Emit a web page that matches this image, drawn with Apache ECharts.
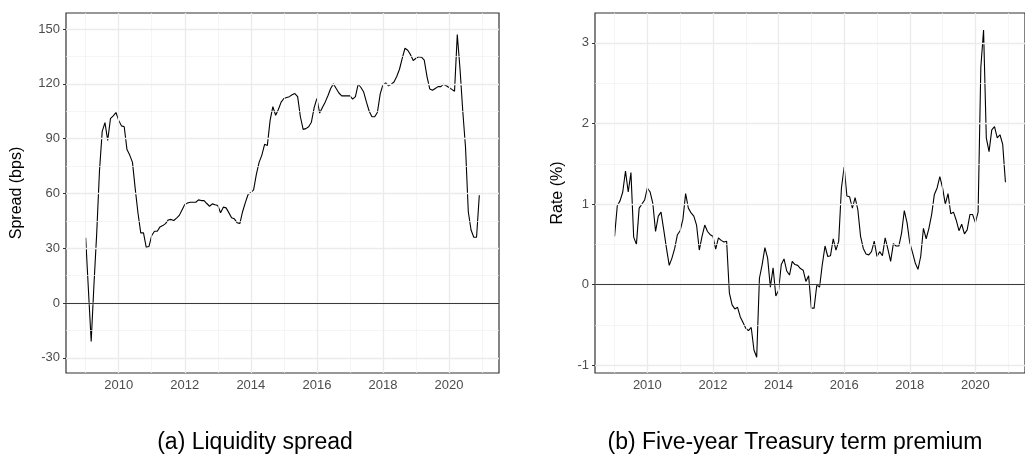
<!DOCTYPE html>
<html>
<head>
<meta charset="utf-8">
<script src="https://cdn.jsdelivr.net/npm/echarts@6/dist/echarts.min.js"></script>
<style>
html,body{margin:0;padding:0;background:#fff;}
#chart{width:1025px;height:469px;}
</style>
</head>
<body>
<div id="chart"></div>
<script>
// Monthly observations, Jan 2009 .. Dec 2020
const startYear = 2009;
const liquiditySpread = [
  35.7, 7, -21, 10, 38, 72, 94, 98.8, 89, 101, 102.5, 104.3,
  100, 97, 96.5, 84, 81, 77, 62.5, 49.3, 38.4, 38.4, 30.5, 31,
  37, 39.3, 39.3, 41.7, 42.4, 43.5, 45.5, 45.8, 45.2, 46.5, 48, 51,
  54, 54.8, 55.2, 55.2, 55.2, 56.5, 56.1, 56.1, 54.5, 53, 54.3, 53.8,
  53.4, 49.4, 52.5, 52.1, 49.5, 46.7, 46.1, 44, 43.5, 50, 55, 59.4,
  60.5, 62, 70.4, 77, 81, 86.9, 86.3, 100, 107.5, 102.8, 106, 110,
  112, 112.5, 113, 114, 114.7, 113, 102, 95.1, 95.5, 96.5, 99, 107,
  112, 104, 107, 110, 113.5, 117.5, 120, 117.5, 115, 113.4, 113.4, 113.4,
  113.4, 111.6, 113, 119.8, 118, 115.5, 110, 105, 102, 102, 104.5, 114.5,
  119.5, 120.5, 118.9, 119.8, 121, 124, 128, 134, 139.5, 138.4, 136, 132.8,
  134, 134.8, 134.6, 133, 124, 117.2, 116.5, 117.5, 118.5, 118.5, 119.8, 119,
  118, 117, 116, 147, 128, 105, 85, 50, 40, 36, 36, 59
];
const termPremium = [
  0.6, 0.98, 1.04, 1.15, 1.41, 1.15, 1.39, 0.59, 0.5, 0.95, 1.0, 1.05,
  1.2, 1.15, 1.01, 0.66, 0.85, 0.9, 0.68, 0.45, 0.24, 0.33, 0.45, 0.62,
  0.67, 0.81, 1.13, 0.95, 0.89, 0.85, 0.74, 0.43, 0.6, 0.74, 0.66, 0.62,
  0.6, 0.44, 0.58, 0.55, 0.53, 0.54, -0.1, -0.25, -0.3, -0.28, -0.4, -0.47,
  -0.54, -0.57, -0.53, -0.81, -0.9, 0.08, 0.25, 0.46, 0.33, -0.03, 0.21, -0.14,
  -0.07, 0.25, 0.32, 0.17, 0.12, 0.29, 0.25, 0.24, 0.2, 0.18, 0.04, 0.11,
  -0.29, -0.29, 0.0, -0.03, 0.25, 0.48, 0.35, 0.36, 0.57, 0.43, 0.54, 1.2,
  1.46, 1.1, 1.09, 0.95, 1.08, 0.93, 0.6, 0.45, 0.38, 0.37, 0.41, 0.54,
  0.35, 0.41, 0.36, 0.58, 0.44, 0.29, 0.51, 0.48, 0.48, 0.64, 0.92, 0.77,
  0.52, 0.4, 0.27, 0.19, 0.35, 0.7, 0.57, 0.7, 0.87, 1.12, 1.2, 1.34,
  1.2, 1.0, 1.13, 0.88, 0.9, 0.8, 0.67, 0.75, 0.63, 0.68, 0.87, 0.87,
  0.77, 0.9, 2.7, 3.16, 1.82, 1.65, 1.92, 1.96, 1.82, 1.86, 1.74, 1.27
];
const xMajorTicks = [2010, 2012, 2014, 2016, 2018, 2020];
const xMinorTicks = [2009, 2011, 2013, 2015, 2017, 2019, 2021];
const yLeftTicks = [-30, 0, 30, 60, 90, 120, 150];
const yLeftMinor = [-15, 15, 45, 75, 105, 135];
const yRightTicks = [-1, 0, 1, 2, 3];
const yRightMinor = [-0.5, 0.5, 1.5, 2.5];
const captions = ['(a) Liquidity spread', '(b) Five-year Treasury term premium'];
const yTitles = ['Spread (bps)', 'Rate (%)'];

const toPairs = arr => arr.map((v, i) => [startYear + i / 12, v]);

const FONT = '"Liberation Sans", Arial, Helvetica, sans-serif';
const chart = echarts.init(document.getElementById('chart'), null, {renderer: 'canvas'});

function gridSeries(idx, xMaj, xMin, yMaj, yMin) {
  const lineMk = (vals, key, w, c) => vals.map(v => ({[key]: v, lineStyle: {color: c, width: w, type: 'solid'}}));
  return [{
    type: 'line', xAxisIndex: idx, yAxisIndex: idx, data: [], silent: true, z: 1,
    markLine: {
      silent: true, symbol: 'none', animation: false, label: {show: false},
      emphasis: {disabled: true},
      data: [].concat(
        lineMk(xMin, 'xAxis', 0.7, '#F0F0F0'),
        lineMk(yMin, 'yAxis', 0.7, '#F0F0F0'),
        lineMk(xMaj, 'xAxis', 1.3, '#EBEBEB'),
        lineMk(yMaj, 'yAxis', 1.3, '#EBEBEB')
      )
    }
  }, {
    type: 'line', xAxisIndex: idx, yAxisIndex: idx, data: [], silent: true, z: 2,
    markLine: {
      silent: true, symbol: 'none', animation: false, label: {show: false},
      emphasis: {disabled: true},
      data: [{yAxis: 0, lineStyle: {color: '#3a3a3a', width: 1, type: 'solid'}}]
    }
  }];
}

function xAxisDef(idx) {
  return {
    type: 'value', gridIndex: idx, min: 2008.404, max: 2021.513,
    splitNumber: 7,
    axisLine: {show: false},
    axisTick: {show: true, length: 3, lineStyle: {color: '#333333', width: 1}, customValues: xMajorTicks},
    axisLabel: {show: true, color: '#4D4D4D', fontSize: 13, fontFamily: FONT, margin: 6,
      customValues: xMajorTicks,
      formatter: v => String(Math.round(v))},
    splitLine: {show: false}
  };
}

function yAxisDef(idx, min, max, ticks, name, gap) {
  return {
    type: 'value', gridIndex: idx, min: min, max: max,
    splitNumber: ticks.length,
    name: name, nameLocation: 'middle', nameGap: gap, nameRotate: 90,
    nameTextStyle: {color: '#000', fontSize: 16, fontFamily: FONT},
    axisLine: {show: false},
    axisTick: {show: true, length: 3, lineStyle: {color: '#333333', width: 1}, customValues: ticks},
    axisLabel: {show: true, color: '#4D4D4D', fontSize: 13, fontFamily: FONT, margin: 6,
      customValues: ticks,
      formatter: v => String(Math.round(v * 100) / 100)},
    splitLine: {show: false}
  };
}

const option = {
  animation: false,
  backgroundColor: '#ffffff',
  grid: [
    {left: 66, top: 13, width: 433, height: 360, show: true, borderColor: '#333333', borderWidth: 1.2, backgroundColor: 'transparent', z: 5},
    {left: 595, top: 13, width: 444, height: 360, show: true, borderColor: '#333333', borderWidth: 1.2, backgroundColor: 'transparent', z: 5}
  ],
  xAxis: [xAxisDef(0), xAxisDef(1)],
  yAxis: [
    yAxisDef(0, -38.3, 158.8, yLeftTicks, yTitles[0], 41),
    yAxisDef(1, -1.095, 3.37, yRightTicks, yTitles[1], 29)
  ],
  series: [].concat(
    gridSeries(0, xMajorTicks, xMinorTicks, yLeftTicks, yLeftMinor),
    gridSeries(1, xMajorTicks, xMinorTicks, yRightTicks, yRightMinor),
    [{
      type: 'line', xAxisIndex: 0, yAxisIndex: 0, data: toPairs(liquiditySpread),
      showSymbol: false, symbol: 'none', z: 3,
      lineStyle: {color: '#000000', width: 1.1}
    }, {
      type: 'line', xAxisIndex: 1, yAxisIndex: 1, data: toPairs(termPremium),
      showSymbol: false, symbol: 'none', z: 3,
      lineStyle: {color: '#000000', width: 1.1}
    }]
  ),
  graphic: [
    {type: 'text', x: 255, y: 443, style: {text: captions[0], fill: '#000', font: '23px ' + FONT, textAlign: 'center', textVerticalAlign: 'middle'}},
    {type: 'text', x: 795, y: 443, style: {text: captions[1], fill: '#000', font: '23px ' + FONT, textAlign: 'center', textVerticalAlign: 'middle'}}
  ]
};
chart.setOption(option);
</script>
</body>
</html>
